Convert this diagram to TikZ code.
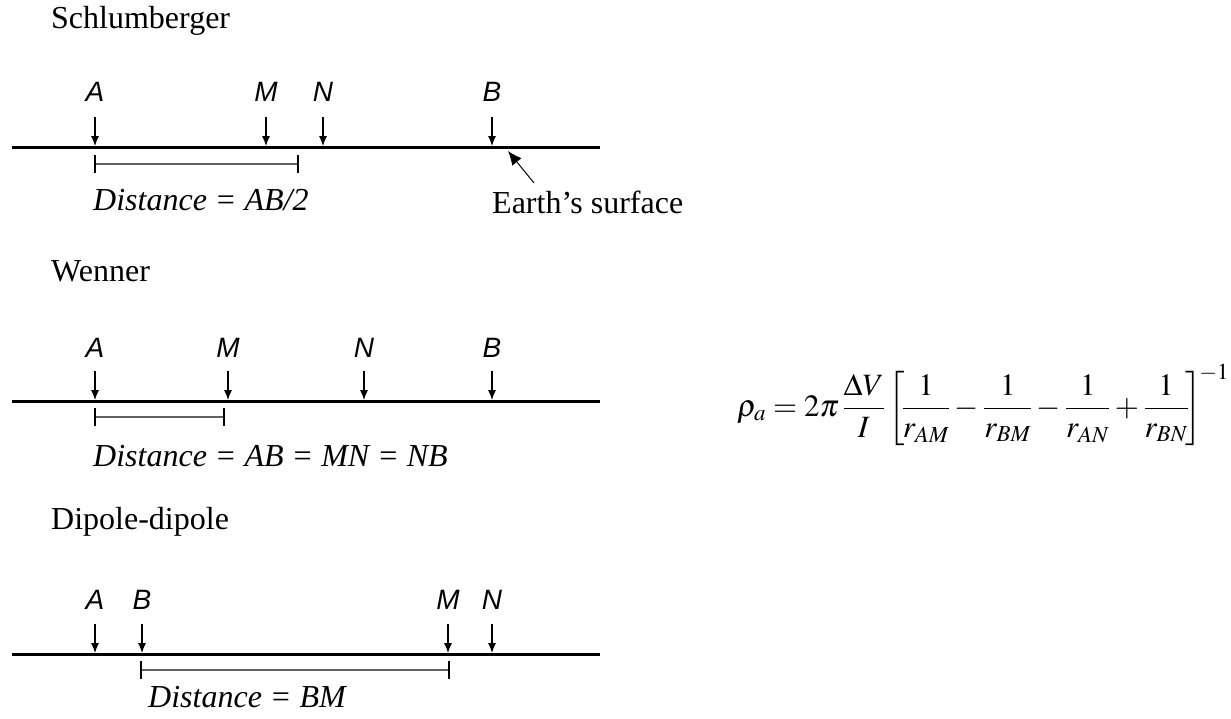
\documentclass[tikz,border=0pt]{standalone}
\usepackage{amsmath}
\usepackage{mathptmx}
\usepackage[no-math]{fontspec}
\setmainfont{Liberation Serif}
\newfontfamily\lsansit{Liberation Sans Italic}
\usetikzlibrary{arrows.meta}
\begin{document}
\begin{tikzpicture}[x=1pt,y=-1pt,
  title/.style={anchor=base west, inner sep=0, font=\fontsize{32}{38}\selectfont},
  elab/.style={inner sep=0, font=\fontsize{28}{32}\selectfont\lsansit},
  probe/.style={-{Latex[length=10pt,width=8pt]}, line width=1.1pt},
  ground/.style={line width=3pt},
  spanline/.style={line width=1.4pt, gray!75!black},
  tickline/.style={line width=1.1pt},
  dist/.style={anchor=base west, inner sep=0, font=\fontsize{32}{38}\selectfont\itshape},
  plain/.style={anchor=base west, inner sep=0, font=\fontsize{32}{38}\selectfont}]
\useasboundingbox (0,0) rectangle (1231,718);

% ---------- Schlumberger ----------
\node[title] (t1) at (51,28) {Schlumberger};
\coordinate (g1a) at (12,147); \coordinate (g1b) at (600,147);
\draw[ground] (g1a) -- (g1b);
\foreach \n/\x in {A/95,M/266,N/323,B/492}{
  \node[elab] (\n1) at (\x,92) {\n};
  \coordinate (\n1t) at (\x,117); \coordinate (\n1g) at (\x,146);
  \draw[probe] (\n1t) -- (\n1g);
}
\coordinate (s1a) at (95,164); \coordinate (s1b) at (298,164);
\draw[spanline] (s1a) -- (s1b);
\draw[tickline] (s1a) ++(0,-9) -- ++(0,18);
\draw[tickline] (s1b) ++(0,-9) -- ++(0,18);
\node[dist] (d1) at (93,210) {Distance = AB/2};
\node[plain] (es) at (492,213) {Earth’s surface};
\coordinate (esT) at (534,183); \coordinate (esH) at (508,151);
\draw[-{Latex[length=14pt,width=12pt]}, line width=1pt] (esT) -- (esH);

% ---------- Wenner ----------
\node[title] (t2) at (51,281) {Wenner};
\coordinate (g2a) at (12,401); \coordinate (g2b) at (600,401);
\draw[ground] (g2a) -- (g2b);
\foreach \n/\x in {A/95,M/228,N/364,B/492}{
  \node[elab] (\n2) at (\x,348) {\n};
  \coordinate (\n2t) at (\x,371); \coordinate (\n2g) at (\x,400);
  \draw[probe] (\n2t) -- (\n2g);
}
\coordinate (s2a) at (95,417); \coordinate (s2b) at (224,417);
\draw[spanline] (s2a) -- (s2b);
\draw[tickline] (s2a) ++(0,-9) -- ++(0,18);
\draw[tickline] (s2b) ++(0,-9) -- ++(0,18);
\node[dist] (d2) at (93,466) {Distance = AB = MN = NB};

% ---------- Dipole-dipole ----------
\node[title] (t3) at (51,529) {Dipole-dipole};
\coordinate (g3a) at (12,654); \coordinate (g3b) at (600,654);
\draw[ground] (g3a) -- (g3b);
\foreach \n/\x in {A/95,B/142,M/448,N/492}{
  \node[elab] (\n3) at (\x,600) {\n};
  \coordinate (\n3t) at (\x,624); \coordinate (\n3g) at (\x,653);
  \draw[probe] (\n3t) -- (\n3g);
}
\coordinate (s3a) at (141,670); \coordinate (s3b) at (449,670);
\draw[spanline] (s3a) -- (s3b);
\draw[tickline] (s3a) ++(0,-9) -- ++(0,18);
\draw[tickline] (s3b) ++(0,-9) -- ++(0,18);
\node[dist] (d3) at (148,707) {Distance = BM};

% ---------- Formula ----------
\node[anchor=base west, inner sep=0, font=\fontsize{31}{36}\selectfont] (f) at (737,416)
  {$\displaystyle \rho_a = 2\pi\,\frac{\Delta V}{I}\left[\!\frac{1}{r_{AM}} - \frac{1}{r_{BM}} - \frac{1}{r_{AN}} + \frac{1}{r_{BN}}\!\right]^{\!\scriptstyle -1}$};
\end{tikzpicture}
\end{document}
